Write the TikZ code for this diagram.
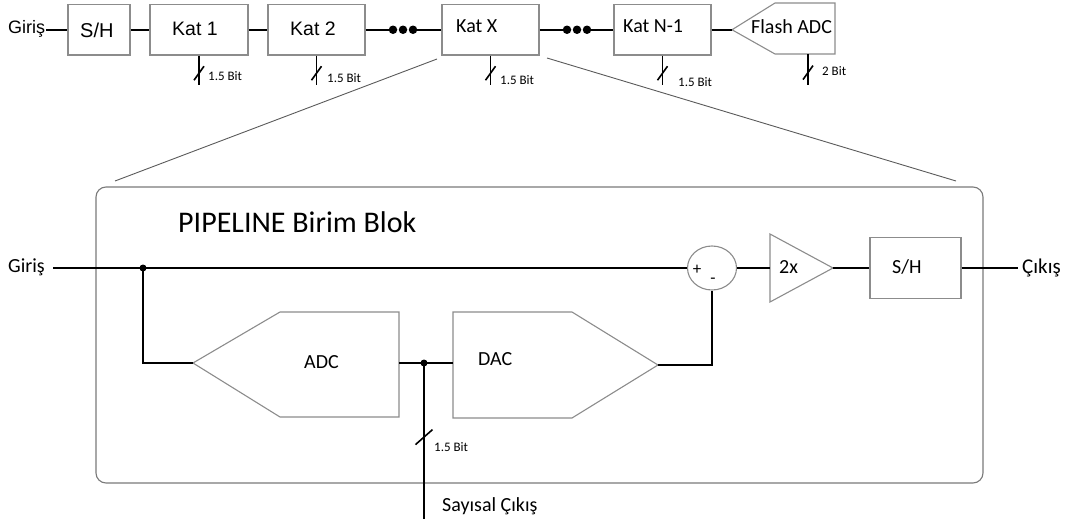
\documentclass[tikz,border=0pt]{standalone}
\usepackage{fontspec}
\setmainfont{Carlito}
\newfontfamily\arialf{Liberation Sans}
\usetikzlibrary{shapes.geometric,calc}
\definecolor{boxgray}{HTML}{8C8C8C}
\definecolor{framegray}{HTML}{7A7A7A}
\definecolor{zoomgray}{HTML}{5A5A5A}
\tikzset{
  blk/.style={draw=boxgray, line width=1.1pt, inner sep=0pt, rectangle},
  shapeline/.style={draw=boxgray, line width=1.1pt, line join=miter},
  wire/.style={line width=1.8pt, black},
  slashline/.style={line width=1.6pt, black},
  lbl/.style={inner sep=0pt, anchor=base west},
  bigdot/.style={circle, fill=black, inner sep=0pt, minimum size=8.5pt},
  zoomline/.style={draw=zoomgray, line width=0.9pt},
  arialtxt/.style={font=\arialf\fontsize{19.5}{22}\selectfont},
  cartxt/.style={font=\fontsize{20}{24}\selectfont},
  bittxt/.style={font=\fontsize{13}{15}\selectfont}
}
\begin{document}
\begin{tikzpicture}[x=1pt,y=-1pt]
\useasboundingbox (0,0) rectangle (1066,522);
% ---------- top row ----------
\node[lbl, font=\arialf\fontsize{18}{20}\selectfont] (tgin) at (8,34) {Giriş};
\coordinate (tin) at (46,29.75);
\node[blk, minimum width=62pt, minimum height=50.5pt] (sh) at (99,29.75) {};
\node[blk, minimum width=98pt, minimum height=50.5pt] (k1) at (199,29.75) {};
\node[blk, minimum width=97pt, minimum height=50.5pt] (k2) at (316.5,29.75) {};
\node[blk, minimum width=97pt, minimum height=50.5pt] (kx) at (490.5,29.75) {};
\node[blk, minimum width=97pt, minimum height=50.5pt] (kn) at (662.5,29.75) {};
\node[lbl, font=\arialf\fontsize{20}{22}\selectfont] (tsh) at (80,37) {S/H};
\node[lbl, arialtxt] (tk1) at (172,35) {Kat 1};
\node[lbl, arialtxt] (tk2) at (290,35) {Kat 2};
\node[lbl, cartxt] (tkx) at (456,32) {Kat X};
\node[lbl, cartxt] (tkn) at (623,32) {Kat N-1};
% flash ADC
\coordinate (fa) at (732,29.75);
\coordinate (fb) at (775,3);
\coordinate (fc) at (835,3);
\coordinate (fd) at (835,54);
\coordinate (fe) at (775,54);
\coordinate (fbot) at (808,54);
\draw[shapeline] (fa) -- (fb) -- (fc) -- (fd) -- (fe) -- cycle;
\node[lbl, cartxt] (tfl) at (751,33) {Flash ADC};
% dots
\node[bigdot] (d1) at (393,29.75) {};
\node[bigdot] (d2) at (403,29.75) {};
\node[bigdot] (d3) at (413,29.75) {};
\node[bigdot] (e1) at (567,29.75) {};
\node[bigdot] (e2) at (577,29.75) {};
\node[bigdot] (e3) at (587,29.75) {};
% wires
\draw[wire] (tin) -- (sh.west);
\draw[wire] (sh.east) -- (k1.west);
\draw[wire] (k1.east) -- (k2.west);
\draw[wire] (k2.east) -- (d1);
\draw[wire] (d3) -- (kx.west);
\draw[wire] (kx.east) -- (e1);
\draw[wire] (e3) -- (kn.west);
\draw[wire] (kn.east) -- (fa);
% bit outputs
\coordinate (b1) at (199,85);
\coordinate (b2) at (316.5,85);
\coordinate (bx) at (490.5,85);
\coordinate (bn) at (662.5,85);
\coordinate (bf) at (808,85);
\draw[wire] (k1.south) -- (b1);
\draw[wire] (k2.south) -- (b2);
\draw[wire] (kx.south) -- (bx);
\draw[wire] (kn.south) -- (bn);
\draw[wire] (fbot) -- (bf);
\foreach \a/\b in {k1.south/b1, k2.south/b2, kx.south/bx, kn.south/bn, fbot/bf}{
  \draw[slashline] ($(\a)!0.6!(\b)+(-5,7)$) -- ++(10,-14);
}
\node[lbl, bittxt] (l1) at (208,80) {1.5 Bit};
\node[lbl, bittxt] (l2) at (327,82) {1.5 Bit};
\node[lbl, bittxt] (lx) at (500,84) {1.5 Bit};
\node[lbl, bittxt] (ln) at (678,86) {1.5 Bit};
\node[lbl, bittxt] (lf) at (822,75) {2 Bit};
% zoom lines
\coordinate (z1) at (437,59);
\coordinate (z2) at (115,181);
\coordinate (z3) at (547,58);
\coordinate (z4) at (956,181);
\draw[zoomline] (z1) -- (z2);
\draw[zoomline] (z3) -- (z4);
% ---------- big frame ----------
\node[draw=framegray, line width=1.1pt, rounded corners=10pt, inner sep=0pt,
      minimum width=887pt, minimum height=296pt] (frame) at (539.5,335) {};
\node[lbl, font=\fontsize{30}{35}\selectfont] (title) at (178,232) {PIPELINE Birim Blok};
% input
\node[lbl, cartxt] (gin) at (8,272) {Giriş};
\coordinate (gs) at (53,268);
\coordinate (j1) at (143,268);
% ADC
\coordinate (adcT) at (193,363);
\coordinate (adcB) at (280,312);
\coordinate (adcC) at (399,312);
\coordinate (adcD) at (399,417);
\coordinate (adcE) at (280,417);
\coordinate (adcR) at (399,363);
\draw[shapeline] (adcT) -- (adcB) -- (adcC) -- (adcD) -- (adcE) -- cycle;
\node[lbl, cartxt] (tadc) at (304,368) {ADC};
% DAC
\coordinate (dacL) at (453,363);
\coordinate (dacA) at (453,312);
\coordinate (dacB) at (572,312);
\coordinate (dacT) at (658,365);
\coordinate (dacC) at (572,418);
\coordinate (dacD) at (453,418);
\draw[shapeline] (dacA) -- (dacB) -- (dacT) -- (dacC) -- (dacD) -- cycle;
\node[lbl, cartxt] (tdac) at (478,365) {DAC};
\coordinate (jn) at (424,363);
\coordinate (sout) at (424,519);
% summer
\node[ellipse, draw=boxgray, line width=1.1pt, inner sep=0pt,
      minimum width=49pt, minimum height=44pt] (sum) at (712,268) {};
\node[font=\fontsize{17}{18}\selectfont, inner sep=0pt] (plus) at (697,270) {+};
\node[font=\fontsize{17}{18}\selectfont, inner sep=0pt] (minus) at (713,281) {-};
% amplifier
\coordinate (ampA) at (770,234);
\coordinate (ampB) at (770,302);
\coordinate (ampT) at (833,268);
\coordinate (ampIn) at (770,268);
\draw[shapeline] (ampA) -- (ampT) -- (ampB) -- cycle;
\node[lbl, cartxt] (t2x) at (779,273) {2x};
% S/H
\node[blk, minimum width=91pt, minimum height=61pt] (sh2) at (915.5,268) {};
\node[lbl, cartxt] (tsh2) at (892,273) {S/H};
\coordinate (cout) at (1018,268);
\node[lbl, font=\fontsize{21}{24}\selectfont] (tcout) at (1022,273) {Çıkış};
% wires inner
\draw[wire] (gs) -- (sum.west);
\draw[wire] (j1) |- (adcT);
\fill (j1) circle (3.5pt);
\draw[wire] (adcR) -- (dacL);
\draw[wire] (jn) -- (sout);
\fill (jn) circle (3.5pt);
\draw[slashline] ($(jn)!0.475!(sout)+(-8.5,7.5)$) -- ++(17,-15);
\draw[wire] (dacT) -| (sum.south);
\draw[wire] (sum.east) -- (ampIn);
\draw[wire] (ampT) -- (sh2.west);
\draw[wire] (sh2.east) -- (cout);
\node[lbl, bittxt] (lb) at (434,451) {1.5 Bit};
\node[lbl, font=\fontsize{20}{24}\selectfont] (tsay) at (442,511) {Sayısal Çıkış};
\end{tikzpicture}
\end{document}
